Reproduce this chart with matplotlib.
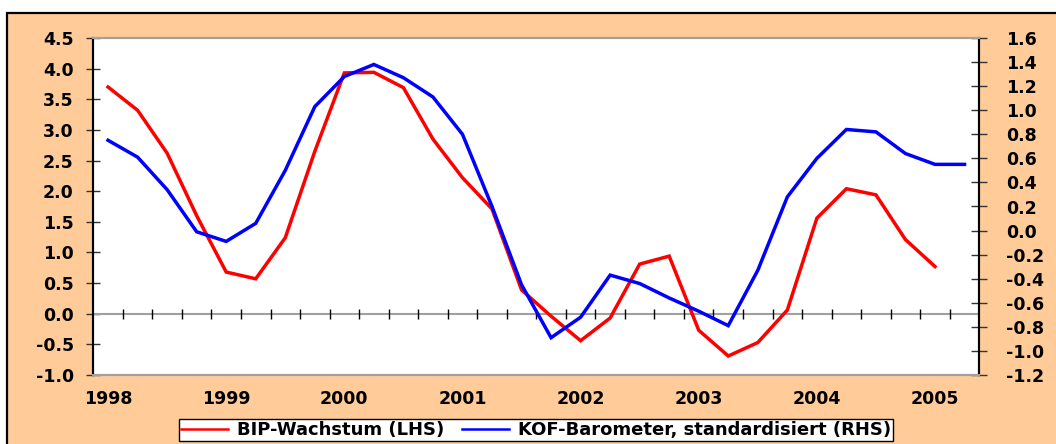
import numpy as np
import matplotlib
matplotlib.use("Agg")
import matplotlib.pyplot as plt
from matplotlib.patches import Rectangle
from matplotlib.lines import Line2D

# ---------------- data ----------------
years = ["1998", "1999", "2000", "2001", "2002", "2003", "2004", "2005"]
quarters_per_year = 4
n_quarters = 30  # 1998Q1 .. 2005Q2

bip_growth = [3.70, 3.32, 2.62, 1.60,
              0.68, 0.57, 1.24, 2.65,
              3.93, 3.94, 3.69, 2.85,
              2.22, 1.71, 0.39, -0.04,
              -0.44, -0.07, 0.81, 0.94,
              -0.27, -0.69, -0.47, 0.06,
              1.56, 2.04, 1.94, 1.21,
              0.77]

kof_barometer = [0.75, 0.61, 0.34, -0.01,
                 -0.09, 0.06, 0.50, 1.03,
                 1.28, 1.38, 1.27, 1.11,
                 0.80, 0.20, -0.45, -0.89,
                 -0.72, -0.37, -0.44, -0.56,
                 -0.67, -0.79, -0.33, 0.28,
                 0.60, 0.84, 0.82, 0.64,
                 0.55, 0.55]

left_ticks = [-1.0, -0.5, 0.0, 0.5, 1.0, 1.5, 2.0, 2.5, 3.0, 3.5, 4.0, 4.5]
right_ticks = [-1.2, -1.0, -0.8, -0.6, -0.4, -0.2, 0.0, 0.2, 0.4, 0.6, 0.8, 1.0, 1.2, 1.4, 1.6]

label_bip = "BIP-Wachstum (LHS)"
label_kof = "KOF-Barometer, standardisiert (RHS)"

# ---------------- style ----------------
PEACH = "#FFCC99"
GRID_GRAY = "#A0A0A0"
FS = 12.5
FS_LEG = 13
plt.rcParams["font.family"] = ["DejaVu Sans"]
plt.rcParams["font.weight"] = "bold"

W, H = 1056, 444
fig = plt.figure(figsize=(W / 100, H / 100), dpi=100)
fig.patch.set_facecolor("white")

# outer peach frame (cropped on right and bottom)
frame = Rectangle((7 / W, -0.05), 1.1, 1 - 12.7 / H + 0.05, transform=fig.transFigure,
                  facecolor=PEACH, edgecolor="black", linewidth=1.6, zorder=-10)
fig.patches.append(frame)

ax = fig.add_axes([93.3 / W, 1 - 375 / H, (979.3 - 93.3) / W, (375 - 38) / H])
ax.set_facecolor("white")
ax2 = ax.twinx()

x_bip = np.arange(len(bip_growth)) + 0.5
x_kof = np.arange(len(kof_barometer)) + 0.5

ax.plot(x_bip, bip_growth, color="#FF0000", lw=2.5, zorder=5, solid_joinstyle="miter")
ax2.plot(x_kof, kof_barometer, color="#0000FF", lw=2.5, zorder=5, solid_joinstyle="miter")

ax.set_xlim(0, n_quarters)
ax.set_ylim(-1.0, 4.5)
ax2.set_ylim(-1.2, 1.6)

# zero line with category-boundary ticks
ax.axhline(0, color=GRID_GRAY, lw=1.5, zorder=2)
bounds = np.arange(1, n_quarters)
ax.plot(bounds, np.zeros_like(bounds, dtype=float), ls="none", marker="|",
        markersize=6.5, mew=1.0, color="black", zorder=3)

# x tick labels at first quarter of each year
ax.set_xticks(np.arange(len(years)) * quarters_per_year + 0.5)
ax.set_xticklabels(years, fontsize=FS, fontweight="bold")
ax.tick_params(axis="x", length=0, pad=11)

ax.set_yticks(left_ticks)
ax.set_yticklabels([f"{v:.1f}" for v in left_ticks], fontsize=FS, fontweight="bold")
ax.tick_params(axis="y", direction="inout", length=10, width=1, color="#333333", pad=9)

ax2.set_yticks(right_ticks)
ax2.set_yticklabels([f"{v:.1f}" for v in right_ticks], fontsize=FS, fontweight="bold")
ax2.tick_params(axis="y", direction="inout", length=11, width=1, color="#333333", pad=14)

for a in (ax, ax2):
    a.spines["left"].set_color("black")
    a.spines["right"].set_color("black")
    a.spines["left"].set_linewidth(1.5)
    a.spines["right"].set_linewidth(1.5)
    a.spines["top"].set_color(GRID_GRAY)
    a.spines["bottom"].set_color(GRID_GRAY)
    a.spines["top"].set_linewidth(1.5)
    a.spines["bottom"].set_linewidth(1.5)

handles = [Line2D([], [], color="#FF0000", lw=1.8), Line2D([], [], color="#0000FF", lw=1.8)]
leg = fig.legend(handles, [label_bip, label_kof], loc="center", ncol=2,
                 bbox_to_anchor=(536 / W, 1 - 430 / H),
                 prop={"size": FS_LEG, "weight": "bold"}, frameon=True, fancybox=False,
                 edgecolor="black", facecolor="white", framealpha=1,
                 handlelength=2.6, handletextpad=0.5, columnspacing=1.0,
                 borderpad=0.12, borderaxespad=0)
leg.get_frame().set_linewidth(1.0)

fig.savefig("out.png", dpi=100, facecolor=fig.get_facecolor())
